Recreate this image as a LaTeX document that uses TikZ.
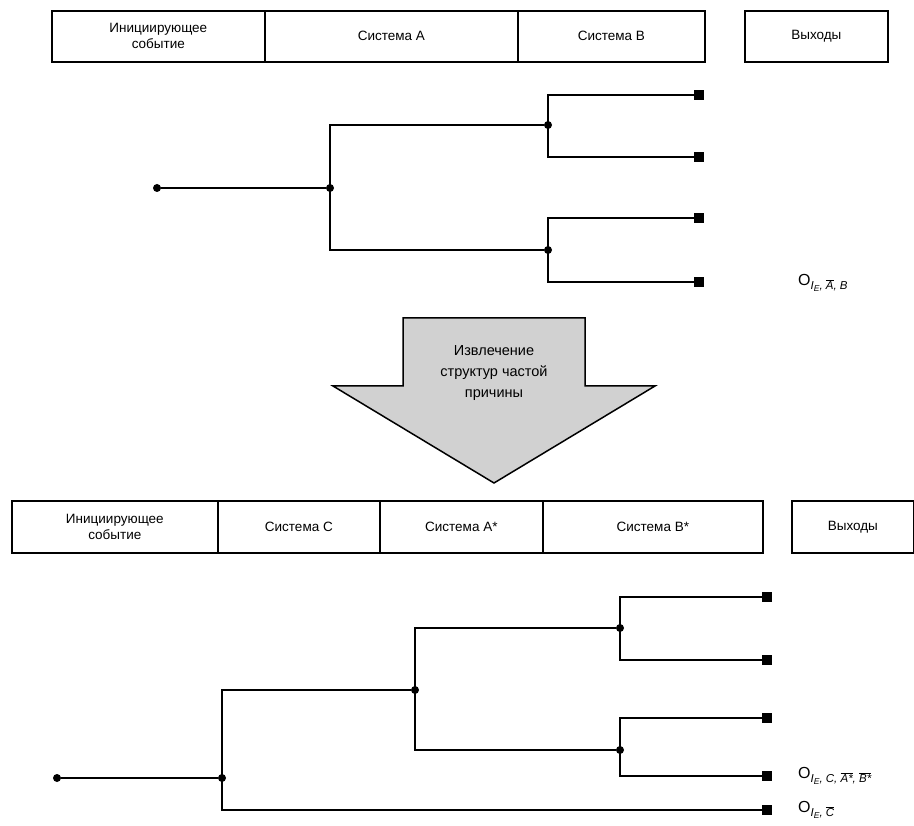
\documentclass[tikz,border=0pt]{standalone}
\usepackage{fontspec}
\setmainfont{Liberation Sans}
\newcommand\mysub[1]{\lower4pt\hbox{\fontsize{11.5}{12}\selectfont\itshape #1}}
\newcommand\mysubsub[1]{\lower2.2pt\hbox{\fontsize{8.5}{9}\selectfont\itshape #1}}
\newcommand\mybar[1]{\ensuremath{\overline{\hbox{#1}}}}
\begin{document}
\begin{tikzpicture}[x=1pt,y=-1pt,
  hbox/.style={draw,line width=1.7pt,rectangle,inner sep=0pt,align=center,
    font=\fontsize{13.5}{16}\selectfont,anchor=north west},
  dot/.style={circle,fill=black,inner sep=0pt,minimum size=8pt},
  endsq/.style={rectangle,fill=black,inner sep=0pt,minimum size=10pt},
  branch/.style={line width=1.9pt},
  lab/.style={anchor=west,inner sep=0pt,font=\fontsize{16}{17}\selectfont},
  bigarrow/.style={draw,line width=1.5pt,fill=black!18,line join=miter}]
\useasboundingbox (0,0) rectangle (914,826);

% ---------- top header ----------
\node[hbox,minimum width=213pt,minimum height=51pt] (ta) at (51,10) {Инициирующее\\событие};
\node[hbox,minimum width=253pt,minimum height=51pt] (tb) at (264,10) {Система А};
\node[hbox,minimum width=187pt,minimum height=51pt] (tc) at (517,10) {Система В};
\node[hbox,minimum width=143pt,minimum height=51pt] (td) at (744,10) {Выходы};

% ---------- top tree ----------
\node[dot] (s1) at (157,188) {};
\node[dot] (j1) at (330,188) {};
\node[dot] (j2) at (548,125) {};
\node[dot] (j3) at (548,250) {};
\node[endsq] (e1) at (699,95) {};
\node[endsq] (e2) at (699,157) {};
\node[endsq] (e3) at (699,218) {};
\node[endsq] (e4) at (699,282) {};
\draw[branch] (s1) -- (j1);
\draw[branch] (j1.center) |- (j2);
\draw[branch] (j1.center) |- (j3);
\draw[branch] (j2.center) |- (e1);
\draw[branch] (j2.center) |- (e2);
\draw[branch] (j3.center) |- (e3);
\draw[branch] (j3.center) |- (e4);
\node[lab] (o1) at (798,283) {O\mysub{I\mysubsub{E}, \mybar{A}, B}};

% ---------- big arrow ----------
\draw[bigarrow] (403,318) -- (585,318) -- (585,386) -- (655,386) -- (494,483)
  -- (333,386) -- (403,386) -- cycle;
\node[align=center,font=\fontsize{14.5}{21}\selectfont,inner sep=0pt] (arrtxt) at (494,373)
  {Извлечение\\структур частой\\причины};

% ---------- bottom header ----------
\node[hbox,minimum width=206pt,minimum height=52pt] (ba) at (11,500) {Инициирующее\\событие};
\node[hbox,minimum width=162pt,minimum height=52pt] (bb) at (217,500) {Система С};
\node[hbox,minimum width=163pt,minimum height=52pt] (bc) at (379,500) {Система А*};
\node[hbox,minimum width=220pt,minimum height=52pt] (bd) at (542,500) {Система В*};
\node[hbox,minimum width=122pt,minimum height=52pt] (be) at (791,500) {Выходы};

% ---------- bottom tree ----------
\node[dot] (s2) at (57,778) {};
\node[dot] (k1) at (222,778) {};
\node[dot] (k2) at (415,690) {};
\node[dot] (k3) at (620,628) {};
\node[dot] (k4) at (620,750) {};
\node[endsq] (f1) at (767,597) {};
\node[endsq] (f2) at (767,660) {};
\node[endsq] (f3) at (767,718) {};
\node[endsq] (f4) at (767,776) {};
\node[endsq] (f5) at (767,810) {};
\draw[branch] (s2) -- (k1);
\draw[branch] (k1.center) |- (k2);
\draw[branch] (k1.center) |- (f5);
\draw[branch] (k2.center) |- (k3);
\draw[branch] (k2.center) |- (k4);
\draw[branch] (k3.center) |- (f1);
\draw[branch] (k3.center) |- (f2);
\draw[branch] (k4.center) |- (f3);
\draw[branch] (k4.center) |- (f4);
\node[lab] (o2) at (798,776) {O\mysub{I\mysubsub{E}, C, \mybar{A*}, \mybar{B*}}};
\node[lab] (o3) at (798,810) {O\mysub{I\mysubsub{E}, \mybar{C}}};
\end{tikzpicture}
\end{document}
